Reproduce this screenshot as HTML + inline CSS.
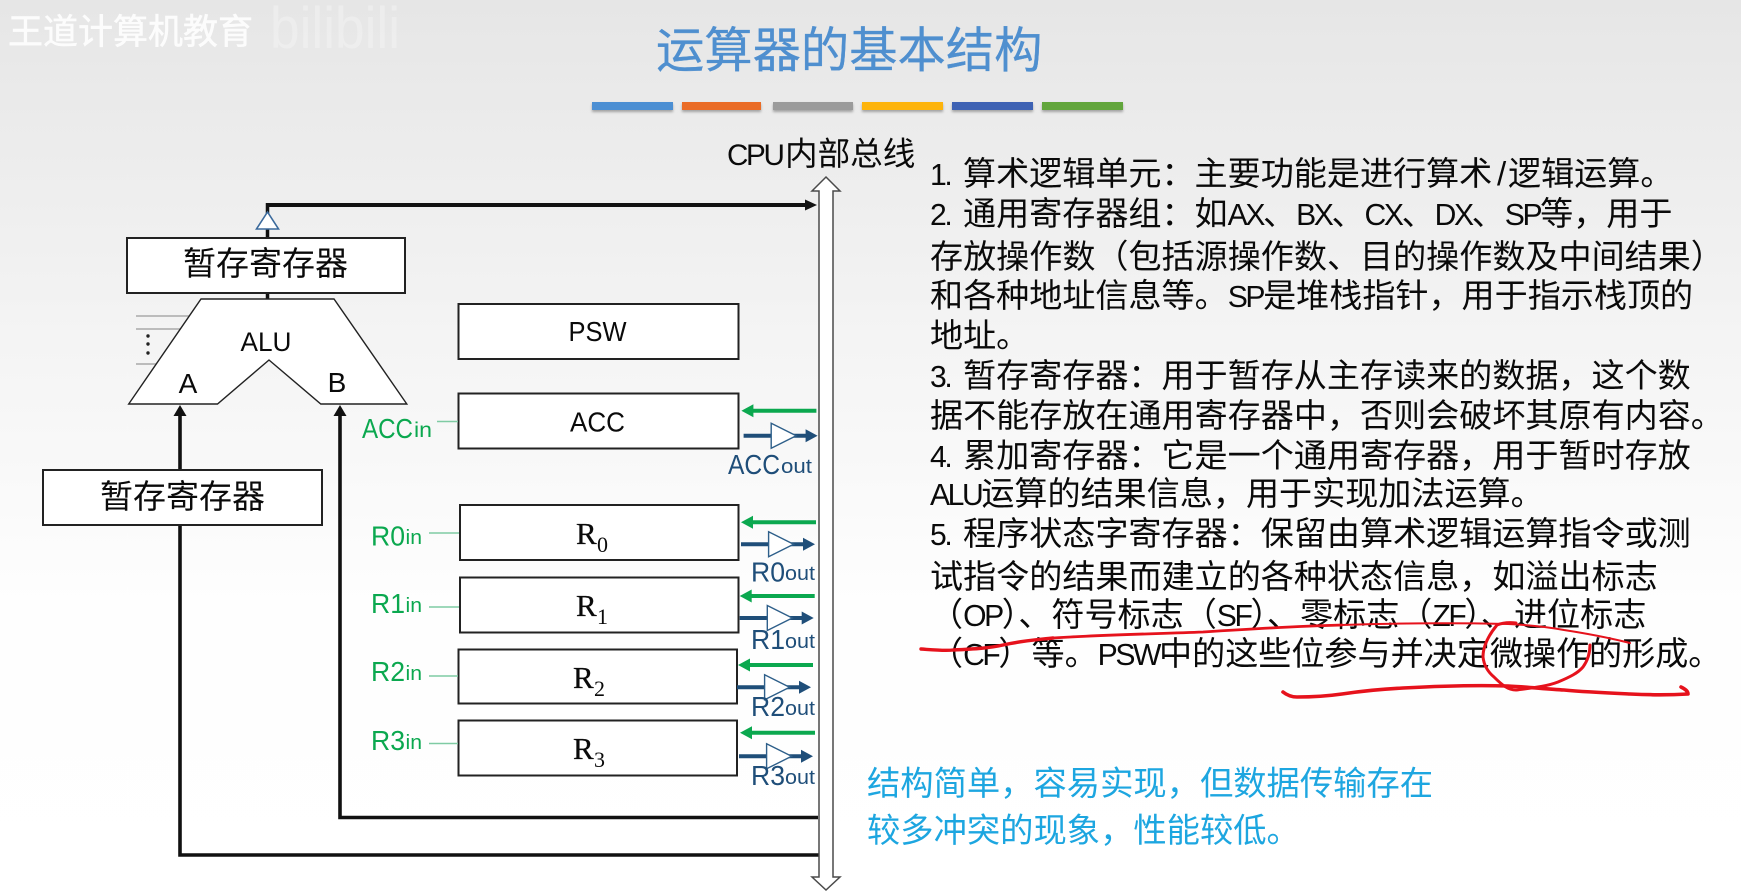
<!DOCTYPE html>
<html lang="zh">
<head>
<meta charset="utf-8">
<title>运算器的基本结构</title>
<style>
html,body{margin:0;padding:0;width:1741px;height:895px;overflow:hidden;background:#fff}
svg{display:block;position:absolute;left:0;top:0;filter:blur(.35px)}
text{font-family:"Liberation Sans","Noto Sans CJK SC",sans-serif;fill:#0a0a0a}
.l{font-size:.91em;letter-spacing:-.08em}
.t{font-size:33.1px}
.b{font-size:33.3px;fill:#1da6e0}
.g{fill:#0ba84f}
.n{fill:#1f4e79}
.s{font-family:"Liberation Serif",serif}
</style>
</head>
<body>
<svg width="1741" height="895" viewBox="0 0 1741 895" xmlns="http://www.w3.org/2000/svg">
<defs>
<linearGradient id="bg" x1="0" y1="0" x2="0" y2="1">
<stop offset="0" stop-color="#e6e6e6"/>
<stop offset=".35" stop-color="#f3f3f3"/>
<stop offset=".68" stop-color="#fefefe"/>
<stop offset="1" stop-color="#fff"/>
</linearGradient>
<filter id="blur" x="-5%" y="-50%" width="110%" height="250%"><feGaussianBlur stdDeviation="1.4"/></filter>
<g id="ga">
<line x1="10" y1="0" x2="75" y2="0" stroke="#0ba84f" stroke-width="4"/>
<polygon points="0,0 12,-6.5 12,6.5" fill="#0ba84f"/>
</g>
<g id="oa">
<line x1="0" y1="0" x2="64" y2="0" stroke="#1f4e79" stroke-width="4"/>
<polygon points="27.6,-12.5 27.6,12.5 52.6,0" fill="#fff" stroke="#2e5f8a" stroke-width="1.4"/>
<polygon points="74,0 62,-6.5 62,6.5" fill="#1f4e79"/>
</g>
</defs>

<rect width="1741" height="895" fill="url(#bg)"/>

<!-- watermark -->
<text x="8" y="44" font-size="35" style="fill:#fff;opacity:.9;stroke:#fff;stroke-width:.5">王道计算机教育</text>
<text x="270" y="48" font-size="58" textLength="130" lengthAdjust="spacingAndGlyphs" style="fill:#fff;opacity:.28">bilibili</text>

<!-- title -->
<text x="656" y="67" font-size="48.3" style="fill:#4f8fcf;stroke:#4f8fcf;stroke-width:.3">运算器的基本结构</text>

<!-- colour bars -->
<g fill="#666" opacity=".55" filter="url(#blur)">
<rect x="592" y="104" width="81" height="8"/><rect x="682" y="104" width="79" height="8"/><rect x="773" y="104" width="80" height="8"/>
<rect x="862" y="104" width="81" height="8"/><rect x="952" y="104" width="81" height="8"/><rect x="1042" y="104" width="81" height="8"/>
</g>
<rect x="592" y="102" width="81" height="8" fill="#4c8fd3"/>
<rect x="682" y="102" width="79" height="8" fill="#ea6c26"/>
<rect x="773" y="102" width="80" height="8" fill="#9b9b9b"/>
<rect x="862" y="102" width="81" height="8" fill="#fdb40c"/>
<rect x="952" y="102" width="81" height="8" fill="#3e62b4"/>
<rect x="1042" y="102" width="81" height="8" fill="#62a63c"/>

<!-- bus label -->
<text x="727" y="165" font-size="32.6"><tspan class="l">CPU</tspan><tspan x="785">内部总线</tspan></text>

<!-- ALU control lines -->
<g stroke="#aaa" stroke-width="1.5">
<line x1="136" y1="316" x2="195" y2="316"/>
<line x1="136" y1="329" x2="190" y2="329"/>
<line x1="136" y1="364" x2="172" y2="364"/>
</g>
<g fill="#222">
<circle cx="148" cy="336" r="1.7"/><circle cx="148" cy="344" r="1.7"/><circle cx="148" cy="353" r="1.7"/>
</g>

<!-- output line -->
<line x1="267.5" y1="203" x2="267.5" y2="300" stroke="#111" stroke-width="3.5"/>
<line x1="266" y1="205" x2="808" y2="205" stroke="#111" stroke-width="4"/>
<polygon points="817,205 805,199.5 805,210.5" fill="#111"/>
<polygon points="267.5,212 256.5,229 278.5,229" fill="#fff" stroke="#3b6a9c" stroke-width="1.6"/>

<!-- input lines -->
<polyline points="180,412 180,855 819,855" fill="none" stroke="#111" stroke-width="3.6"/>
<polyline points="340,412 340,817.5 818,817.5" fill="none" stroke="#111" stroke-width="3.6"/>
<polygon points="180,405 173.5,416 186.5,416" fill="#111"/>
<polygon points="340,405 333.5,416 346.5,416" fill="#111"/>

<!-- ALU -->
<polygon points="201,299 334,299 406.8,404 320.8,404 269,360 217.5,404 128.7,404" fill="#fff" stroke="#222" stroke-width="1.4"/>
<text x="266" y="351" font-size="27" text-anchor="middle" textLength="51" lengthAdjust="spacingAndGlyphs">ALU</text>
<text x="188" y="393" font-size="28" text-anchor="middle">A</text>
<text x="337" y="392" font-size="28" text-anchor="middle">B</text>

<!-- boxes -->
<g fill="#fff" stroke="#222" stroke-width="2">
<rect x="127" y="238" width="278" height="55"/>
<rect x="43" y="470" width="279" height="55"/>
<rect x="458.5" y="304" width="280" height="55"/>
<rect x="458.5" y="393.5" width="280" height="55"/>
<rect x="460" y="505" width="278.5" height="55"/>
<rect x="460" y="577.5" width="278.5" height="55"/>
<rect x="458.5" y="649.5" width="278.5" height="54"/>
<rect x="458.5" y="720.5" width="278.5" height="55"/>
</g>
<text x="183" y="275" font-size="33">暂存寄存器</text>
<text x="100" y="508" font-size="33">暂存寄存器</text>
<text x="597.5" y="341" font-size="28" text-anchor="middle" textLength="58" lengthAdjust="spacingAndGlyphs">PSW</text>
<text x="597.5" y="431.5" font-size="28" text-anchor="middle" textLength="55" lengthAdjust="spacingAndGlyphs">ACC</text>

<text class="s" x="576" y="544" font-size="31" style="stroke:#0a0a0a;stroke-width:.3">R</text><text class="s" x="597" y="552" font-size="22">0</text>
<text class="s" x="576" y="616" font-size="31" style="stroke:#0a0a0a;stroke-width:.3">R</text><text class="s" x="597" y="624" font-size="22">1</text>
<text class="s" x="573" y="688" font-size="31" style="stroke:#0a0a0a;stroke-width:.3">R</text><text class="s" x="594" y="696" font-size="22">2</text>
<text class="s" x="573" y="759" font-size="31" style="stroke:#0a0a0a;stroke-width:.3">R</text><text class="s" x="594" y="767" font-size="22">3</text>

<!-- green in-lines and labels -->
<g stroke="#7fcba3" stroke-width="1.6">
<line x1="437" y1="421.5" x2="458" y2="421.5"/>
<line x1="429" y1="533" x2="459" y2="533"/>
<line x1="429" y1="607" x2="459" y2="607"/>
<line x1="429" y1="676" x2="458" y2="676"/>
<line x1="429" y1="743.5" x2="458" y2="743.5"/>
</g>
<text class="g" x="362" y="438" font-size="28" textLength="51" lengthAdjust="spacingAndGlyphs">ACC</text>
<text class="g" x="414" y="437" font-size="21" textLength="18" lengthAdjust="spacingAndGlyphs">in</text>
<text class="g" x="371" y="545.5" font-size="28" textLength="34" lengthAdjust="spacingAndGlyphs">R0</text>
<text class="g" x="405.5" y="544" font-size="20" textLength="16.5" lengthAdjust="spacingAndGlyphs">in</text>
<text class="g" x="371" y="613" font-size="28" textLength="34" lengthAdjust="spacingAndGlyphs">R1</text>
<text class="g" x="405.5" y="612" font-size="20" textLength="16.5" lengthAdjust="spacingAndGlyphs">in</text>
<text class="g" x="371" y="681" font-size="28" textLength="34" lengthAdjust="spacingAndGlyphs">R2</text>
<text class="g" x="405.5" y="680" font-size="20" textLength="16.5" lengthAdjust="spacingAndGlyphs">in</text>
<text class="g" x="371" y="750" font-size="28" textLength="34" lengthAdjust="spacingAndGlyphs">R3</text>
<text class="g" x="405.5" y="749" font-size="20" textLength="16.5" lengthAdjust="spacingAndGlyphs">in</text>

<!-- control arrows -->
<use href="#ga" x="741.4" y="410.7"/>
<use href="#ga" x="741" y="522.3"/>
<use href="#ga" x="739.7" y="596"/>
<use href="#ga" x="738" y="665"/>
<use href="#ga" x="740" y="732.7"/>
<use href="#oa" x="743.6" y="435.7"/>
<use href="#oa" x="741" y="544.3"/>
<use href="#oa" x="739.7" y="618"/>
<use href="#oa" x="737" y="687.3"/>
<use href="#oa" x="739" y="756.3"/>

<text class="n" x="728" y="474" font-size="28" textLength="52" lengthAdjust="spacingAndGlyphs">ACC</text>
<text class="n" x="781" y="473" font-size="20" textLength="31" lengthAdjust="spacingAndGlyphs">out</text>
<text class="n" x="751" y="581.5" font-size="28" textLength="34" lengthAdjust="spacingAndGlyphs">R0</text>
<text class="n" x="785" y="580" font-size="20" textLength="30" lengthAdjust="spacingAndGlyphs">out</text>
<text class="n" x="751" y="649" font-size="28" textLength="34" lengthAdjust="spacingAndGlyphs">R1</text>
<text class="n" x="785" y="648" font-size="20" textLength="30" lengthAdjust="spacingAndGlyphs">out</text>
<text class="n" x="751" y="716" font-size="28" textLength="34" lengthAdjust="spacingAndGlyphs">R2</text>
<text class="n" x="785" y="715" font-size="20" textLength="30" lengthAdjust="spacingAndGlyphs">out</text>
<text class="n" x="751" y="785" font-size="28" textLength="34" lengthAdjust="spacingAndGlyphs">R3</text>
<text class="n" x="785" y="784" font-size="20" textLength="30" lengthAdjust="spacingAndGlyphs">out</text>

<!-- bus -->
<polygon points="826,177 840,191 833,191 833,877 840,877 826,890 812,877 819,877 819,191 812,191" fill="#fff" stroke="#4a4a4a" stroke-width="1.5"/>

<!-- description -->
<text class="t" x="930" y="185"><tspan class="l">1.</tspan><tspan x="963">算术逻辑单元：主要功能是进行算术</tspan><tspan x="1497">/</tspan><tspan x="1508">逻辑运算。</tspan></text>
<text class="t" x="930" y="225"><tspan class="l">2.</tspan><tspan x="963">通用寄存器组：如</tspan><tspan class="l">AX</tspan>、<tspan class="l">BX</tspan>、<tspan class="l">CX</tspan>、<tspan class="l">DX</tspan>、<tspan class="l">SP</tspan>等，用于</text>
<text class="t" x="930" y="268">存放操作数（包括源操作数、目的操作数及中间结果）</text>
<text class="t" x="930" y="307">和各种地址信息等。<tspan class="l">SP</tspan>是堆栈指针，用于指示栈顶的</text>
<text class="t" x="930" y="347">地址。</text>
<text class="t" x="930" y="387"><tspan class="l">3.</tspan><tspan x="963">暂存寄存器：用于暂存从主存读来的数据，这个数</tspan></text>
<text class="t" x="930" y="427">据不能存放在通用寄存器中，否则会破坏其原有内容。</text>
<text class="t" x="930" y="467"><tspan class="l">4.</tspan><tspan x="963">累加寄存器：它是一个通用寄存器，用于暂时存放</tspan></text>
<text class="t" x="930" y="505"><tspan class="l">ALU</tspan>运算的结果信息，用于实现加法运算。</text>
<text class="t" x="930" y="545"><tspan class="l">5.</tspan><tspan x="963">程序状态字寄存器：保留由算术逻辑运算指令或测</tspan></text>
<text class="t" x="930" y="588">试指令的结果而建立的各种状态信息，如溢出标志</text>
<text class="t" x="930" y="626">（<tspan class="l">OP</tspan>）、符号标志（<tspan class="l">SF</tspan>）、零标志（<tspan class="l">ZF</tspan>）、进位标志</text>
<text class="t" x="930" y="665">（<tspan class="l">CF</tspan>）等。<tspan class="l">PSW</tspan>中的这些位参与并决定微操作的形成。</text>

<!-- blue note -->
<text class="b" x="867" y="795">结构简单，容易实现，但数据传输存在</text>
<text class="b" x="867" y="842">较多冲突的现象，性能较低。</text>

<!-- red annotations -->
<g fill="none" stroke="#e6121c" stroke-linecap="round" stroke-linejoin="round">
<path d="M921,649 C935,650 945,651 953,650 C975,649 990,648 1003,645 C1020,641 1035,640 1053,638" stroke-width="3.4"/>
<path d="M1053,638 C1100,635 1150,634 1203,632 C1250,629 1300,626 1342,625" stroke-width="2.8"/>
<path d="M1342,625 C1400,623 1460,623 1508,624 C1530,625 1548,627 1564,630 C1590,634 1610,638 1630,643" stroke-width="2"/>
<path d="M1516,623 C1508,622 1502,623 1497,625 C1488,636 1483,646 1483,657 C1484,666 1488,672 1494,677 C1502,685 1508,690 1516,690 C1530,688 1545,687 1558,682 C1570,677 1578,673 1583,667 C1588,660 1590,652 1590,645" stroke-width="3"/>
<path d="M1283,692 C1288,696 1292,697 1297,697 C1312,697 1328,696 1342,694 C1362,691 1382,689 1403,688 C1440,686 1475,685 1508,686 C1528,687 1546,689 1564,690 C1585,692 1608,693 1630,694 C1650,695 1670,695 1688,694 C1688,691 1685,689 1681,687" stroke-width="3.6"/>
</g>
</svg>
</body>
</html>
